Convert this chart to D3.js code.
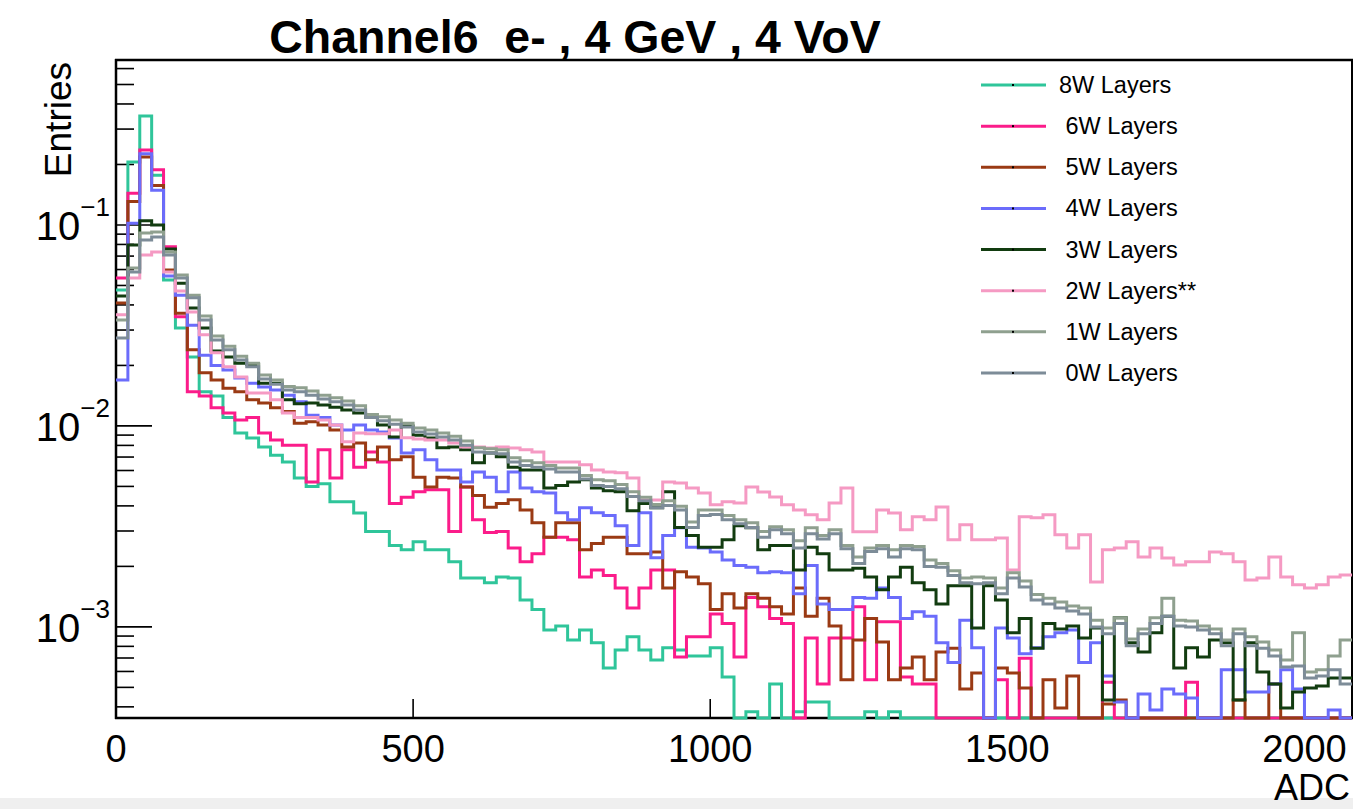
<!DOCTYPE html>
<html>
<head>
<meta charset="utf-8">
<script src="https://cdn.jsdelivr.net/npm/d3@7"></script>
<style>
  html, body { margin: 0; padding: 0; background: #ffffff; }
  svg { display: block; }
  text { font-family: "Liberation Sans", Arial, Helvetica, sans-serif; fill: #000; }
</style>
</head>
<body>
<svg id="chart" width="1353" height="809"></svg>
<script>
// ADC histogram: 20-count bins starting at 0
const binWidth = 20;
const xMax = 2080;
const yMin = 3.52e-4, yMax = 0.662;
const xTickValues = [0, 500, 1000, 1500, 2000];
const yDecades = [1e-3, 1e-2, 1e-1];
const yDecadeLabels = [["10", "\u22123"], ["10", "\u22122"], ["10", "\u22121"]];

const seriesLabels = ["8W Layers", " 6W Layers", " 5W Layers", " 4W Layers", " 3W Layers", " 2W Layers**", " 1W Layers", " 0W Layers"];
const seriesColors = ["#2fc59a", "#fb1c8a", "#9a3a14", "#6b6cfb", "#123c10", "#f59ac3", "#8fa08f", "#7d8c98"];

// normalised entries per bin (0 = empty bin)
const w8 = [0.0475, 0.206, 0.348, 0.177, 0.0532, 0.0307, 0.0220, 0.0148, 0.0141, 0.0110,
  0.00923, 0.00870, 0.00786, 0.00714, 0.00662, 0.00551, 0.00499, 0.00516, 0.00419, 0.00419,
  0.00369, 0.00298, 0.00298, 0.00254, 0.00242, 0.00265, 0.00242, 0.00242, 0.00211, 0.00175,
  0.00175, 0.00166, 0.00177, 0.00175, 0.00136, 0.00122, 0.000966, 0.00101, 0.000861, 0.000966,
  0.000833, 0.000625, 0.000768, 0.000893, 0.000768, 0.000685, 0.000787, 0.000768, 0.000717, 0.000717,
  0.000787, 0.000563, 0, 0.000378, 0, 0.000520, 0, 0.000378, 0.000423, 0.000423,
  0, 0, 0, 0.000378, 0, 0.000378, 0, 0, 0, 0,
  0, 0, 0, 0, 0, 0, 0, 0, 0, 0,
  0, 0, 0, 0, 0, 0, 0, 0, 0, 0,
  0, 0, 0, 0, 0, 0, 0, 0, 0, 0,
  0, 0, 0, 0];

const w6 = [0.0545, 0.144, 0.236, 0.188, 0.0779, 0.0349, 0.0148, 0.0141, 0.0123, 0.0116,
  0.0107, 0.0110, 0.00923, 0.00851, 0.00801, 0.00801, 0.00526, 0.00760, 0.00551, 0.00760,
  0.00622, 0.00742, 0.00662, 0.00411, 0.00441, 0.00470, 0.00481, 0.00481, 0.00298, 0.00497,
  0.00341, 0.00295, 0.00298, 0.00247, 0.00211, 0.00231, 0.00279, 0.00279, 0.00271, 0.00177,
  0.00192, 0.00180, 0.00156, 0.00124, 0.00156, 0.00192, 0.00192, 0.000708, 0.000893, 0.000893,
  0.00116, 0.00104, 0.000708, 0.00140, 0.00126, 0.00110, 0.00104, 0, 0.000881, 0.000520,
  0.000881, 0.000881, 0.00126, 0.000545, 0.00106, 0.00106, 0.000563, 0.000520, 0.000520, 0,
  0, 0, 0, 0, 0.000545, 0, 0.000698, 0, 0, 0,
  0, 0, 0, 0.000530, 0, 0, 0, 0, 0, 0,
  0.000530, 0, 0, 0, 0, 0, 0, 0, 0, 0,
  0, 0, 0, 0];

const w5 = [0.0409, 0.131, 0.218, 0.157, 0.0597, 0.0364, 0.0239, 0.0184, 0.0169, 0.0154,
  0.0148, 0.0135, 0.0130, 0.0123, 0.0118, 0.0103, 0.0105, 0.0101, 0.00955, 0.00786,
  0.00823, 0.00678, 0.00786, 0.00678, 0.00702, 0.00555, 0.00497, 0.00555, 0.00551, 0.00497,
  0.00451, 0.00394, 0.00411, 0.00429, 0.00382, 0.00330, 0.00279, 0.00330, 0.00330, 0.00242,
  0.00260, 0.00279, 0.00279, 0.00231, 0.00231, 0.00236, 0.00156, 0.00188, 0.00177, 0.00164,
  0.00122, 0.00146, 0.00124, 0.00146, 0.00139, 0.00126, 0.00116, 0.00156, 0.00113, 0.00139,
  0.00101, 0.000545, 0.000861, 0.00110, 0.000842, 0.000545, 0.000625, 0.000708, 0.000545, 0.000750,
  0.000782, 0.000491, 0.000590, 0, 0.000625, 0.000590, 0.000497, 0, 0.000545, 0.000395,
  0.000570, 0, 0, 0.000413, 0.000433, 0, 0, 0, 0, 0,
  0, 0, 0, 0, 0.000433, 0, 0, 0.000520, 0, 0,
  0, 0, 0, 0];

const w4 = [0.0169, 0.102, 0.226, 0.149, 0.0557, 0.0447, 0.0317, 0.0225, 0.0200, 0.0190,
  0.0173, 0.0163, 0.0156, 0.0151, 0.0142, 0.0132, 0.0113, 0.0110, 0.0101, 0.00955,
  0.0101, 0.00955, 0.00933, 0.00870, 0.00734, 0.00760, 0.00678, 0.00604, 0.00604, 0.00526,
  0.00590, 0.00555, 0.00470, 0.00590, 0.00491, 0.00470, 0.00464, 0.00370, 0.00341, 0.00391,
  0.00370, 0.00358, 0.00319, 0.00254, 0.00370, 0.00221, 0.00285, 0.00311, 0.00249, 0.00247,
  0.00236, 0.00215, 0.00202, 0.00198, 0.00186, 0.00188, 0.00186, 0.00146, 0.00202, 0.00130,
  0.00122, 0.00122, 0.00140, 0.00139, 0.00156, 0.00140, 0.00110, 0.00119, 0.00113, 0.000833,
  0.000664, 0.00108, 0.000787, 0, 0.000988, 0.000881, 0.000734, 0.000787, 0.000893, 0.000934,
  0.000966, 0.000664, 0.000833, 0.000570, 0.000423, 0, 0.000464, 0.000386, 0.000491, 0.000464,
  0.000443, 0, 0, 0.000611, 0.000611, 0.000474, 0.000474, 0.000520, 0.000611, 0.000491,
  0, 0, 0.000386, 0];

const w3 = [0.0443, 0.0794, 0.105, 0.100, 0.0760, 0.0513, 0.0386, 0.0307, 0.0236, 0.0220,
  0.0205, 0.0202, 0.0163, 0.0163, 0.0135, 0.0129, 0.0130, 0.0127, 0.0124, 0.0120,
  0.0116, 0.0110, 0.0101, 0.00881, 0.00999, 0.00898, 0.00870, 0.00778, 0.00786, 0.00760,
  0.00655, 0.00734, 0.00702, 0.00622, 0.00604, 0.00604, 0.00491, 0.00505, 0.00526, 0.00539,
  0.00491, 0.00476, 0.00470, 0.00378, 0.00411, 0.00391, 0.00470, 0.00312, 0.00285, 0.00249,
  0.00249, 0.00271, 0.00319, 0.00311, 0.00242, 0.00254, 0.00254, 0.00192, 0.00249, 0.00231,
  0.00192, 0.00192, 0.00196, 0.00177, 0.00153, 0.00177, 0.00198, 0.00166, 0.00153, 0.00130,
  0.00160, 0.00160, 0.000988, 0.00160, 0.00136, 0.000934, 0.00110, 0.000782, 0.00104, 0.000977,
  0.00101, 0.000881, 0.000988, 0.000433, 0.00111, 0.000833, 0.000750, 0.000934, 0.00113, 0.000625,
  0.000787, 0.000708, 0.000861, 0.000833, 0.000433, 0.000833, 0.000597, 0.000520, 0.000395, 0.000474,
  0.000497, 0.000508, 0.000557, 0.000557];

const w2 = [0.0357, 0.0545, 0.0709, 0.0734, 0.0584, 0.0469, 0.0369, 0.0284, 0.0231, 0.0197,
  0.0175, 0.0146, 0.0146, 0.0135, 0.0116, 0.0110, 0.0110, 0.0107, 0.0101, 0.00833,
  0.00923, 0.00913, 0.00913, 0.00955, 0.00872, 0.00862, 0.00852, 0.00852, 0.00823, 0.00786,
  0.00786, 0.00777, 0.00786, 0.00777, 0.00760, 0.00742, 0.00662, 0.00662, 0.00662, 0.00640,
  0.00604, 0.00590, 0.00584, 0.00551, 0.00428, 0.00428, 0.00526, 0.00520, 0.00491, 0.00464,
  0.00405, 0.00419, 0.00414, 0.00497, 0.00469, 0.00443, 0.00405, 0.00382, 0.00361, 0.00341,
  0.00414, 0.00491, 0.00297, 0.00297, 0.00382, 0.00369, 0.00304, 0.00353, 0.00341, 0.00395,
  0.00271, 0.00322, 0.00271, 0.00271, 0.00277, 0.00192, 0.00353, 0.00349, 0.00361, 0.00287,
  0.00247, 0.00287, 0.00167, 0.00242, 0.00247, 0.00265, 0.00223, 0.00247, 0.00220, 0.00203,
  0.00211, 0.00211, 0.00236, 0.00231, 0.00211, 0.00171, 0.00175, 0.00223, 0.00177, 0.00162,
  0.00156, 0.00162, 0.00177, 0.00181];

const w1 = [0.0337, 0.0610, 0.0912, 0.0923, 0.0734, 0.0563, 0.0447, 0.0352, 0.0280, 0.0249,
  0.0222, 0.0205, 0.0179, 0.0169, 0.0157, 0.0155, 0.0149, 0.0142, 0.0138, 0.0133,
  0.0126, 0.0114, 0.0111, 0.0107, 0.0103, 0.00977, 0.00955, 0.00923, 0.00888, 0.00841,
  0.00778, 0.00769, 0.00760, 0.00694, 0.00670, 0.00655, 0.00636, 0.00618, 0.00618, 0.00567,
  0.00539, 0.00533, 0.00511, 0.00470, 0.00441, 0.00406, 0.00424, 0.00398, 0.00333, 0.00382,
  0.00382, 0.00358, 0.00341, 0.00330, 0.00298, 0.00315, 0.00304, 0.00268, 0.00311, 0.00285,
  0.00304, 0.00254, 0.00223, 0.00247, 0.00254, 0.00242, 0.00254, 0.00251, 0.00215, 0.00207,
  0.00190, 0.00175, 0.00177, 0.00175, 0.00156, 0.00186, 0.00169, 0.00145, 0.00139, 0.00133,
  0.00127, 0.00124, 0.00108, 0.000988, 0.00111, 0.000871, 0.000977, 0.00111, 0.00139, 0.00108,
  0.00107, 0.00101, 0.000977, 0.000861, 0.000977, 0.000893, 0.000842, 0.000768, 0.000685, 0.000934,
  0.000597, 0.000611, 0.000717, 0.000861];

const w0 = [0.0274, 0.0584, 0.0842, 0.0872, 0.0708, 0.0545, 0.0434, 0.0337, 0.0268, 0.0239,
  0.0213, 0.0197, 0.0171, 0.0161, 0.0151, 0.0148, 0.0142, 0.0136, 0.0132, 0.0127,
  0.0120, 0.0110, 0.0106, 0.0102, 0.00989, 0.00933, 0.00912, 0.00881, 0.00851, 0.00801,
  0.00742, 0.00734, 0.00726, 0.00662, 0.00636, 0.00622, 0.00611, 0.00590, 0.00590, 0.00545,
  0.00505, 0.00499, 0.00487, 0.00446, 0.00424, 0.00391, 0.00402, 0.00382, 0.00312, 0.00358,
  0.00362, 0.00341, 0.00326, 0.00312, 0.00279, 0.00304, 0.00291, 0.00247, 0.00291, 0.00274,
  0.00291, 0.00245, 0.00207, 0.00237, 0.00245, 0.00223, 0.00245, 0.00242, 0.00200, 0.00198,
  0.00180, 0.00166, 0.00164, 0.00166, 0.00146, 0.00175, 0.00158, 0.00136, 0.00130, 0.00124,
  0.00120, 0.00116, 0.000999, 0.000924, 0.00104, 0.000805, 0.000924, 0.00104, 0.00113, 0.00101,
  0.000999, 0.000966, 0.000924, 0.000805, 0.000924, 0.000805, 0.000782, 0.000717, 0.000631, 0.000639,
  0.000557, 0.000570, 0.000611, 0.000520];

const seriesValues = [w8, w6, w5, w4, w3, w2, w1, w0];

// ---- layout ----
const svg = d3.select("#chart");
const frame = { left: 116, right: 1352, top: 60, bottom: 718 };

const x = d3.scaleLinear().domain([0, xMax]).range([frame.left, frame.right]);
const y = d3.scaleLog().domain([yMin, yMax]).range([frame.bottom, frame.top]);

// light strip along the bottom of the canvas
svg.append("rect").attr("x", 0).attr("y", 798).attr("width", 1353).attr("height", 11).attr("fill", "#efefef");

// title
svg.append("text")
  .attr("x", 575).attr("y", 53)
  .attr("text-anchor", "middle")
  .style("font-weight", "bold").style("font-size", "46.5px")
  .attr("xml:space", "preserve").style("white-space", "pre")
  .text("Channel6  e- , 4 GeV , 4 VoV");

// axes
const axisG = svg.append("g");
axisG.append("line").attr("x1", frame.left).attr("x2", frame.left)
  .attr("y1", frame.top - 1).attr("y2", frame.bottom + 1)
  .attr("stroke", "#000").attr("stroke-width", 2.5);
axisG.append("line").attr("x1", frame.left - 1).attr("x2", frame.right + 2)
  .attr("y1", frame.bottom).attr("y2", frame.bottom)
  .attr("stroke", "#000").attr("stroke-width", 2.5);
axisG.append("line").attr("x1", frame.left - 1).attr("x2", frame.right + 2)
  .attr("y1", frame.top).attr("y2", frame.top)
  .attr("stroke", "#000").attr("stroke-width", 2.5);
axisG.append("line").attr("x1", frame.right).attr("x2", frame.right)
  .attr("y1", frame.top).attr("y2", frame.bottom)
  .attr("stroke", "#000").attr("stroke-width", 2);

// x ticks and labels
xTickValues.forEach(v => {
  axisG.append("line").attr("x1", x(v)).attr("x2", x(v))
    .attr("y1", frame.bottom).attr("y2", frame.bottom - 19)
    .attr("stroke", "#000").attr("stroke-width", 1.6);
  axisG.append("text").attr("x", x(v)).attr("y", 762)
    .attr("text-anchor", "middle").style("font-size", "38px")
    .text(v);
});
axisG.append("text").attr("x", 1350).attr("y", 800)
  .attr("text-anchor", "end").style("font-size", "36px").text("ADC");

// y ticks: decades long, 2..9 short
const yTickVals = [];
for (let e = -4; e <= 0; e++) {
  for (let m = 1; m <= 9; m++) {
    const v = m * Math.pow(10, e);
    if (v >= yMin && v <= yMax) yTickVals.push({ v, major: m === 1 });
  }
}
yTickVals.forEach(t => {
  axisG.append("line").attr("x1", frame.left).attr("x2", frame.left + (t.major ? 36 : 18))
    .attr("y1", y(t.v)).attr("y2", y(t.v))
    .attr("stroke", "#000").attr("stroke-width", 1.6);
});
yDecades.forEach((v, i) => {
  const t = axisG.append("text").attr("x", 110).attr("y", y(v) + 15)
    .attr("text-anchor", "end");
  t.append("tspan").style("font-size", "40px").text(yDecadeLabels[i][0]);
  t.append("tspan").style("font-size", "26px").attr("dy", -24).text(yDecadeLabels[i][1]);
});
axisG.append("text")
  .attr("transform", "translate(71,62) rotate(-90)")
  .attr("text-anchor", "end").style("font-size", "37px").text("Entries");

// histograms
svg.append("clipPath").attr("id", "plotClip")
  .append("rect").attr("x", frame.left).attr("y", frame.top)
  .attr("width", frame.right - frame.left).attr("height", frame.bottom - frame.top + 3);

const stepLine = d3.line().x(d => d[0]).y(d => d[1]).curve(d3.curveStepAfter);
const yClamp = v => (v > 0 ? Math.min(y(Math.max(v, yMin)), frame.bottom) : frame.bottom);

const histG = svg.append("g").attr("clip-path", "url(#plotClip)");
seriesValues.forEach((vals, s) => {
  const pts = vals.map((v, i) => [x(i * binWidth), yClamp(v)]);
  pts.push([x(vals.length * binWidth), yClamp(vals[vals.length - 1])]);
  histG.append("path")
    .attr("d", stepLine(pts))
    .attr("fill", "none")
    .attr("stroke", seriesColors[s])
    .attr("stroke-width", 3)
    .attr("stroke-linejoin", "miter");
});

// legend
const legendRowY = d3.scalePoint().domain(d3.range(seriesLabels.length)).range([85, 373]);
const legG = svg.append("g");
seriesLabels.forEach((lab, i) => {
  const yy = legendRowY(i);
  legG.append("line").attr("x1", 981).attr("x2", 1046).attr("y1", yy).attr("y2", yy)
    .attr("stroke", seriesColors[i]).attr("stroke-width", 3);
  legG.append("rect").attr("x", 1012).attr("y", yy - 1).attr("width", 2).attr("height", 2).attr("fill", "#000");
  legG.append("text").attr("x", 1059).attr("y", yy + 8)
    .attr("xml:space", "preserve").style("white-space", "pre")
    .style("font-size", "23.5px").text(lab);
});
</script>
</body>
</html>
